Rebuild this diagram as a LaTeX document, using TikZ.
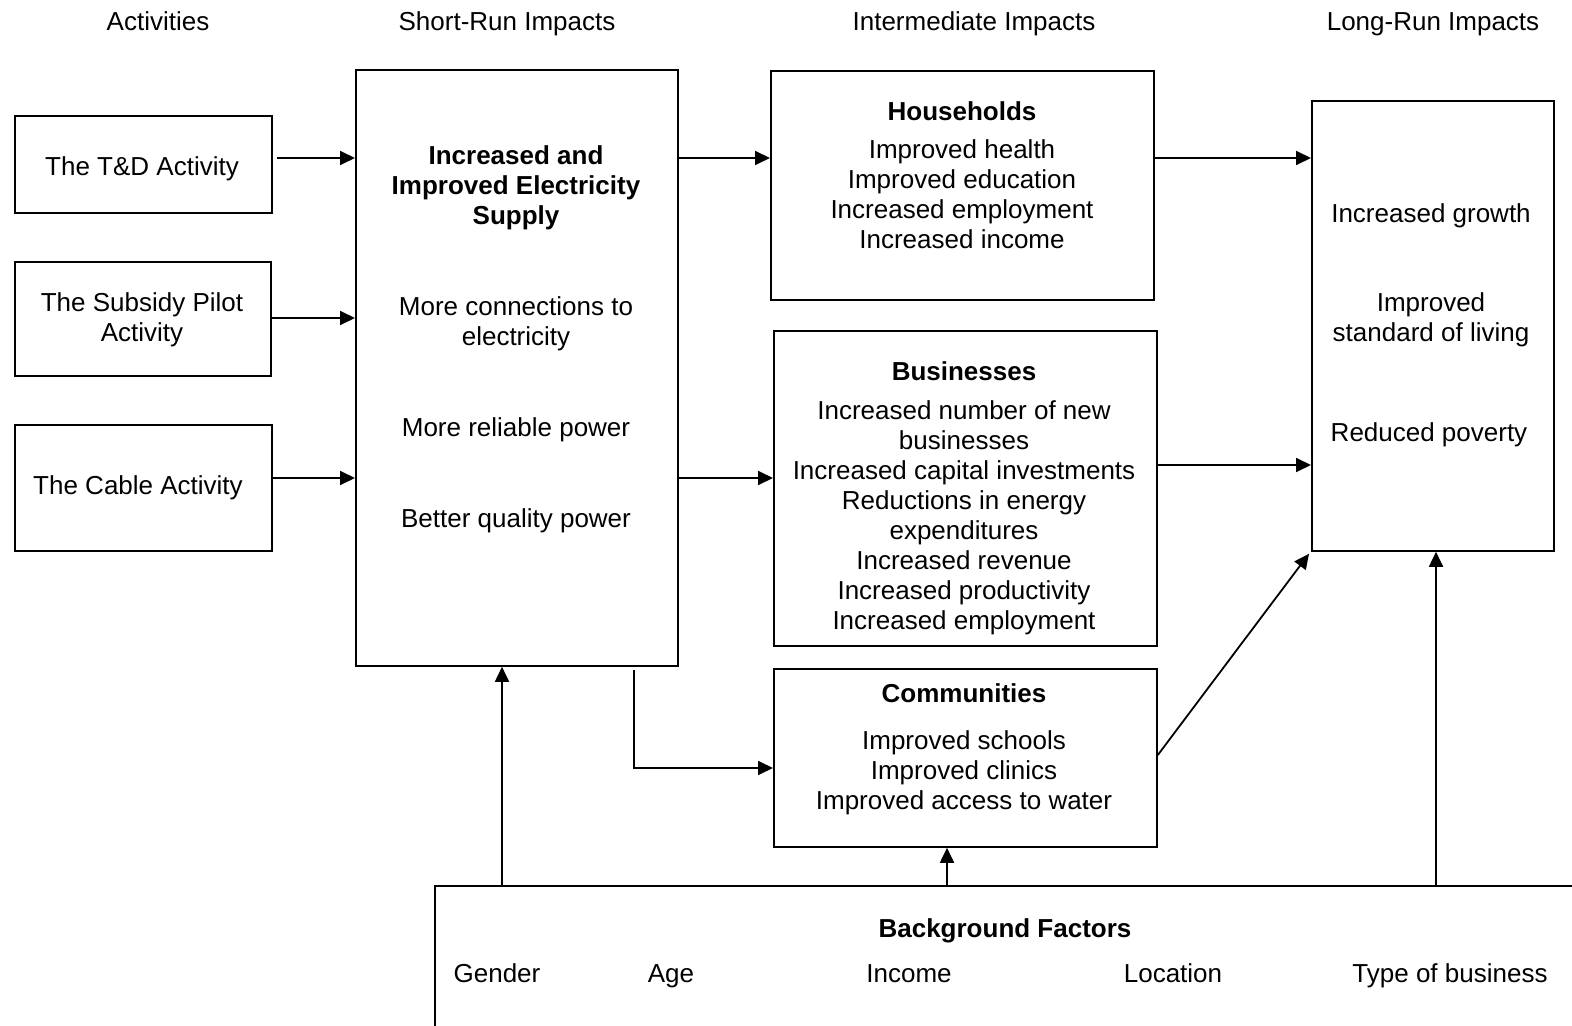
\documentclass[tikz,border=0pt]{standalone}
\usepackage{fontspec}
\setmainfont{Liberation Sans}
\usetikzlibrary{arrows.meta}
\tikzset{
  box/.style={draw, line width=0.9pt, inner sep=0pt, anchor=north west},
  txt/.style={inner sep=0pt, align=center, font=\fontsize{13}{15}\selectfont},
  one/.style={txt, text height=12pt, text depth=2.7pt},
  btxt/.style={txt, font=\fontsize{13}{15}\selectfont\bfseries},
  bone/.style={one, font=\fontsize{13}{15}\selectfont\bfseries},
  arr/.style={line width=0.9pt, -{Triangle[length=7.5pt,width=7pt]}},
  ln/.style={line width=0.9pt}
}
\begin{document}
\begin{tikzpicture}[x=0.5pt,y=-0.5pt]
\useasboundingbox (0,0) rectangle (1572,1026);
\clip (0,0) rectangle (1572,1026);
% headers
\node[one] (h1) at (158,21) {Activities};
\node[one] (h2) at (507,21) {Short-Run Impacts};
\node[one] (h3) at (974,21) {Intermediate Impacts};
\node[one] (h4) at (1433,21) {Long-Run Impacts};
% activities
\node[box, minimum width=128.5pt, minimum height=48.5pt] (td) at (14,115) {};
\node[one] (tdt) at (142,166) {The T\&D Activity};
\node[box, minimum width=128pt, minimum height=57pt] (sp) at (14,261) {};
\node[txt] (spt) at (142,320) {The Subsidy Pilot\\Activity};
\node[box, minimum width=128.5pt, minimum height=63pt] (ca) at (14,424) {};
\node[one] (cat) at (138,485) {The Cable Activity};
% short run
\node[box, minimum width=161pt, minimum height=298pt] (sr) at (355,69) {};
\node[btxt] (sr1) at (516,187.5) {Increased and\\Improved Electricity\\Supply};
\node[txt] (sr2) at (516,324) {More connections to\\electricity};
\node[one] (sr3) at (516,427) {More reliable power};
\node[one] (sr4) at (516,518) {Better quality power};
% households
\node[box, minimum width=191.5pt, minimum height=114.5pt] (hh) at (770,70) {};
\node[bone] (hht) at (962,111) {Households};
\node[txt] (hhl) at (962,194.5) {Improved health\\Improved education\\Increased employment\\Increased income};
% businesses
\node[box, minimum width=191.5pt, minimum height=157.5pt] (bu) at (773,330) {};
\node[bone] (but) at (964,371) {Businesses};
\node[txt] (bul) at (964,517.5) {Increased number of new\\businesses\\Increased capital investments\\Reductions in energy\\expenditures\\Increased revenue\\Increased productivity\\Increased employment};
% communities
\node[box, minimum width=191.5pt, minimum height=89pt] (co) at (773,668) {};
\node[bone] (cot) at (964,693) {Communities};
\node[txt] (col) at (964,773) {Improved schools\\Improved clinics\\Improved access to water};
% long run
\node[box, minimum width=121pt, minimum height=225pt] (lr) at (1311,100) {};
\node[one] (lr1) at (1431,213) {Increased growth};
\node[txt] (lr2) at (1431,320) {Improved\\standard of living};
\node[one] (lr3) at (1429,432) {Reduced poverty};
% background
\node[box, minimum width=583pt, minimum height=87.5pt] (bg) at (434,885) {};
\node[bone] (bgt) at (1005,928) {Background Factors};
\node[one] (g1) at (497,973) {Gender};
\node[one] (g2) at (671,973) {Age};
\node[one] (g3) at (909,973) {Income};
\node[one] (g4) at (1173,973) {Location};
\node[one] (g5) at (1450,973) {Type of business};
% connectors
\draw[arr, shorten <=2pt] (td.east |- 0,158) -- (sr.west |- 0,158);
\draw[arr] (sp.east |- 0,318) -- (sr.west |- 0,318);
\draw[arr] (ca.east |- 0,478) -- (sr.west |- 0,478);
\draw[arr] (sr.east |- 0,158) -- (hh.west |- 0,158);
\draw[arr] (sr.east |- 0,478) -- (bu.west |- 0,478);
\coordinate (srb) at (634,670);
\draw[arr] (srb) |- (co.west |- 0,768);
\draw[arr] (hh.east |- 0,158) -- (lr.west |- 0,158);
\draw[arr] (bu.east |- 0,465) -- (lr.west |- 0,465);
\draw[arr] (co.east |- 0,755) -- ([xshift=-1pt,yshift=-1pt]lr.south west);
\draw[arr] (bg.north -| 502,0) -- (sr.south -| 502,0);
\draw[arr] (bg.north -| 947,0) -- (co.south -| 947,0);
\draw[arr] (bg.north -| 1436,0) -- (lr.south -| 1436,0);
\end{tikzpicture}
\end{document}
